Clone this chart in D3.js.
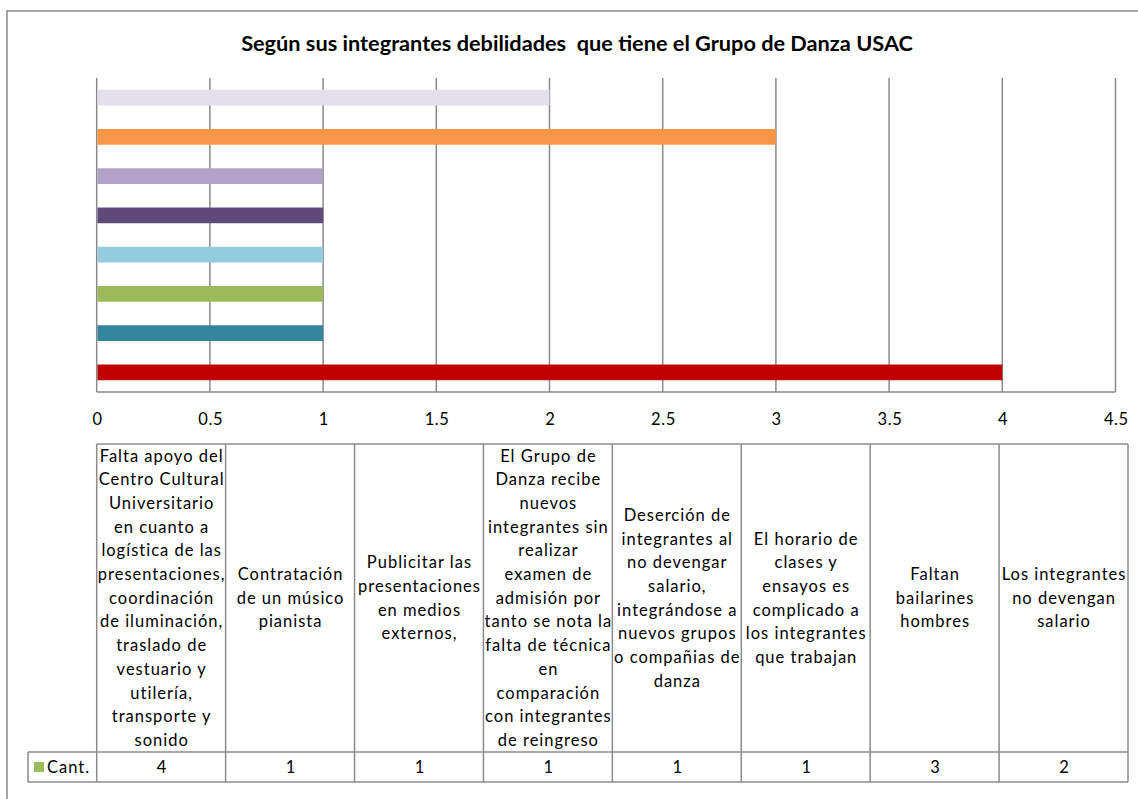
<!DOCTYPE html>
<html>
<head>
<meta charset="utf-8">
<script src="https://cdn.jsdelivr.net/npm/d3@7"></script>
<style>
  html, body { margin: 0; padding: 0; background: #fff; }
  svg { display: block; }
</style>
</head>
<body>
<div id="chart"></div>
<script>
const title = "Según sus integrantes debilidades  que tiene el Grupo de Danza USAC";
const seriesName = "Cant.";
const categories = [
  "Falta apoyo del\nCentro Cultural\nUniversitario\nen cuanto a\nlogística de las\npresentaciones,\ncoordinación\nde iluminación,\ntraslado de\nvestuario y\nutilería,\ntransporte y\nsonido",
  "Contratación\nde un músico\npianista",
  "Publicitar las\npresentaciones\nen medios\nexternos,",
  "El Grupo de\nDanza recibe\nnuevos\nintegrantes sin\nrealizar\nexamen de\nadmisión por\ntanto se nota la\nfalta de técnica\nen\ncomparación\ncon integrantes\nde reingreso",
  "Deserción de\nintegrantes al\nno devengar\nsalario,\nintegrándose a\nnuevos grupos\no compañias de\ndanza",
  "El horario de\nclases y\nensayos es\ncomplicado a\nlos integrantes\nque trabajan",
  "Faltan\nbailarines\nhombres",
  "Los integrantes\nno devengan\nsalario"
];
const values = [4, 1, 1, 1, 1, 1, 3, 2];
const barColors = ["#C00000", "#31859C", "#9BBB59", "#93CDDD", "#604A7B", "#B2A2C7", "#F79646", "#E4DFEC"];
const legendColor = "#9BBB59";
const tickValues = [0, 0.5, 1, 1.5, 2, 2.5, 3, 3.5, 4, 4.5];

const W = 1138, H = 799;
const plot = { left: 96.7, right: 1115.5, top: 78, bottom: 392 };
const table = { left: 96.7, right: 1128, top: 444, headerBottom: 752, bottom: 782, rowHeadLeft: 28 };
const gridColor = "#898989";
const font = "Lato, 'Open Sans', sans-serif";
const ls = 1.0;

const svg = d3.select("#chart").append("svg").attr("width", W).attr("height", H);

// outer chart border
svg.append("rect").attr("x", 7).attr("y", 11).attr("width", W + 10).attr("height", H + 10)
  .attr("fill", "none").attr("stroke", "#8c8c8c").attr("stroke-width", 1.5);

// title (fit to reference width)
const tt = svg.append("text").attr("x", 577).attr("y", 43).attr("dy", "0.35em")
  .attr("text-anchor", "middle").style("white-space", "pre")
  .attr("font-family", font).attr("font-weight", "bold").attr("font-size", 19)
  .attr("fill", "#000").text(title);
const tw = tt.node().getComputedTextLength();
tt.attr("font-size", 19 * 672 / tw);

const x = d3.scaleLinear().domain([0, 4.5]).range([plot.left, plot.right]);
const idx = d3.range(categories.length);
const y = d3.scaleBand().domain(idx).range([plot.bottom, plot.top]).paddingInner(0.6).paddingOuter(0.3);

// gridlines
svg.append("g").selectAll("line").data(tickValues).join("line")
  .attr("x1", d => x(d)).attr("x2", d => x(d))
  .attr("y1", plot.top).attr("y2", plot.bottom)
  .attr("stroke", gridColor).attr("stroke-width", 1.5);
svg.append("line").attr("x1", plot.left).attr("x2", plot.right)
  .attr("y1", plot.bottom).attr("y2", plot.bottom)
  .attr("stroke", gridColor).attr("stroke-width", 1.5);

// bars
svg.append("g").selectAll("rect").data(idx).join("rect")
  .attr("x", x(0) + 0.75)
  .attr("y", i => y(i))
  .attr("width", i => x(values[i]) - x(0) - 0.75)
  .attr("height", y.bandwidth())
  .attr("fill", i => barColors[i]);

// tick labels
const axis = d3.axisBottom(x).tickValues(tickValues).tickSize(0).tickPadding(0)
  .tickFormat(d => String(d));
const ag = svg.append("g").attr("transform", `translate(0, 419)`).call(axis);
ag.select(".domain").remove();
ag.selectAll("text").attr("dy", "0.35em").attr("y", 0)
  .attr("font-family", font).attr("font-size", 16.5).attr("fill", "#000")
  .attr("letter-spacing", 0.6).attr("dx", 0.3);

// data table
const colW = (table.right - table.left) / categories.length;
const tg = svg.append("g");
const lineColor = "#8c8c8c";
[table.top, table.headerBottom, table.bottom].forEach((yy, k) => {
  tg.append("line").attr("x1", k === 0 ? table.left : table.rowHeadLeft).attr("x2", table.right)
    .attr("y1", yy).attr("y2", yy).attr("stroke", lineColor).attr("stroke-width", 1.5);
});
d3.range(categories.length + 1).forEach(i => {
  const xx = table.left + i * colW;
  tg.append("line").attr("x1", xx).attr("x2", xx).attr("y1", table.top).attr("y2", table.bottom)
    .attr("stroke", lineColor).attr("stroke-width", 1.5);
});
tg.append("line").attr("x1", table.rowHeadLeft).attr("x2", table.rowHeadLeft)
  .attr("y1", table.headerBottom).attr("y2", table.bottom)
  .attr("stroke", lineColor).attr("stroke-width", 1.5);

const lineH = 23.7;
const midHeader = (table.top + table.headerBottom) / 2;
categories.forEach((c, i) => {
  const lines = c.split("\n");
  const cx = table.left + (i + 0.5) * colW + ls / 2;
  const t = tg.append("text").attr("text-anchor", "middle")
    .attr("font-family", font).attr("font-size", 16.5).attr("letter-spacing", ls).attr("fill", "#000");
  lines.forEach((ln, j) => {
    t.append("tspan").attr("x", cx)
      .attr("y", midHeader + (j - (lines.length - 1) / 2) * lineH)
      .attr("dy", "0.35em").text(ln);
  });
  tg.append("text").attr("x", cx).attr("y", (table.headerBottom + table.bottom) / 2)
    .attr("dy", "0.35em").attr("text-anchor", "middle")
    .attr("font-family", font).attr("font-size", 16.5).attr("fill", "#000").text(values[i]);
});
tg.append("rect").attr("x", 34).attr("y", 762).attr("width", 10).attr("height", 10).attr("fill", legendColor);
tg.append("text").attr("x", 47).attr("y", (table.headerBottom + table.bottom) / 2).attr("dy", "0.35em")
  .attr("font-family", font).attr("font-size", 16.5).attr("letter-spacing", ls).attr("fill", "#000").text(seriesName);
</script>
</body>
</html>
